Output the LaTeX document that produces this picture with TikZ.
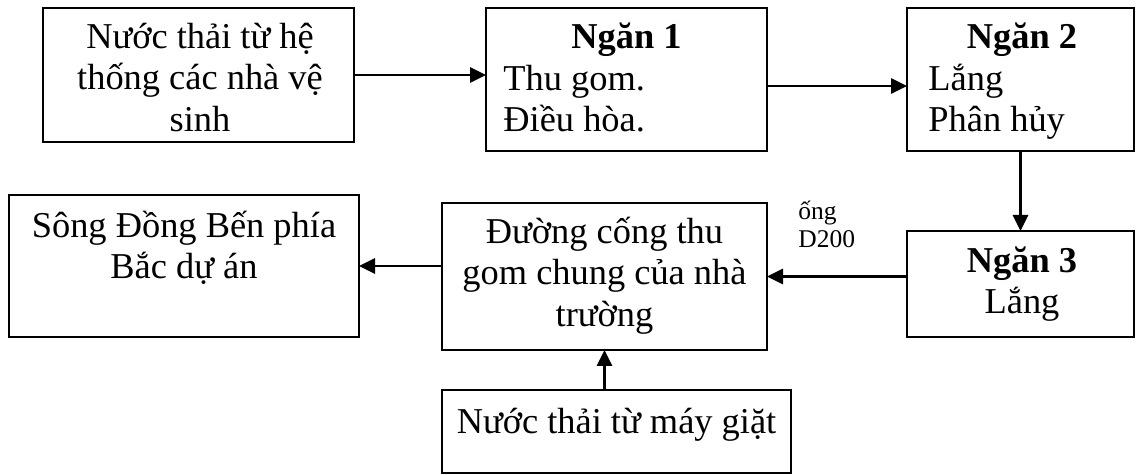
\documentclass[tikz,border=0pt]{standalone}
\usepackage{fontspec}
\setmainfont{Liberation Serif}
\usetikzlibrary{arrows.meta}

\begin{document}
\begin{tikzpicture}[x=0.5pt,y=-0.5pt,
  box/.style={draw, line width=1pt, inner sep=0pt, outer sep=0pt},
  txt/.style={inner sep=0pt, font=\fontsize{18.2pt}{20.75pt}\selectfont, anchor=north, align=center},
  title/.style={inner sep=0pt, font=\fontsize{18.2pt}{20.75pt}\selectfont\bfseries, anchor=north},
  body/.style={inner sep=0pt, font=\fontsize{18.2pt}{20.75pt}\selectfont, anchor=north west, align=left},
  small/.style={inner sep=0pt, font=\fontsize{12.75pt}{14pt}\selectfont, anchor=north west, align=left},
  arr/.style={line width=1.4pt, -{Triangle[length=8pt,width=7.5pt]}}]
\useasboundingbox (0,0) rectangle (1141,475);

% boxes
\node[box, minimum width=155.5pt, minimum height=67pt]   (A) at (198.5,75)   {};
\node[box, minimum width=140.5pt, minimum height=71.5pt] (B) at (626.5,79.5) {};
\node[box, minimum width=113.5pt, minimum height=71.5pt] (C) at (1020.5,79.5) {};
\node[box, minimum width=175pt,   minimum height=71pt]   (D) at (184,266)    {};
\node[box, minimum width=162.5pt, minimum height=73.5pt] (E) at (604.5,276.5) {};
\node[box, minimum width=113.5pt, minimum height=53pt]   (F) at (1020.5,284) {};
\node[box, minimum width=174.5pt, minimum height=41.5pt] (G) at (616.5,431.5) {};

% texts
\node[txt] (At) at (200,14) {\rule{0pt}{17pt}Nước thải từ hệ\\thống các nhà vệ\\sinh};
\node[title] (Bt) at (626.5,14) {\rule{0pt}{17pt}Ngăn 1};
\node[body] (Bb) at (503,56) {\rule{0pt}{17pt}Thu gom.\\Điều hòa.};
\node[title] (Ct) at (1022,14) {\rule{0pt}{17pt}Ngăn 2};
\node[body] (Cb) at (928,56) {\rule{0pt}{17pt}Lắng\\Phân hủy};
\node[txt] (Dt) at (184,203) {\rule{0pt}{17pt}Sông Đồng Bến phía\\Bắc dự án};
\node[txt] (Et) at (604.5,209) {\rule{0pt}{17pt}Đường cống thu\\gom chung của nhà\\trường};
\node[txt] (Ft) at (1022,238) {\rule{0pt}{17pt}\textbf{Ngăn 3}\\Lắng};
\node[txt] (Gt) at (616.5,399) {\rule{0pt}{17pt}Nước thải từ máy giặt};
\node[small] (L) at (798,197) {\rule{0pt}{11pt}ống\\D200};

% flow connectors
\draw[arr] (A.east) -- (A.east -| B.west);
\draw[arr] ([yshift=-3.25pt]B.east) -- ([yshift=-3.25pt]B.east -| C.west);
\draw[arr] (C.south) -- (F.north);
\draw[arr] (F.west |- E.east) -- (E.east);
\draw[arr] (E.west |- D.east) -- (D.east);
\draw[arr] (E.south |- G.north) -- (E.south);
\end{tikzpicture}
\end{document}
